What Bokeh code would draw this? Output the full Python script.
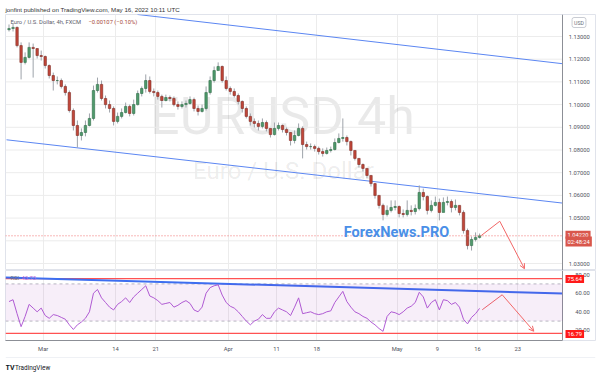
from bokeh.plotting import figure
from bokeh.layouts import column
from bokeh.models import (Range1d, FixedTicker, PrintfTickFormatter, Label, Title, LinearAxis,
                          BoxAnnotation, Arrow, OpenHead, Grid, ColumnDataSource)
from bokeh.embed import file_html
from bokeh.resources import INLINE

# ---------------- data (EURUSD, 12h resolution) ----------------
first_open = 1.1330
close = [1.1335, 1.1340, 1.1260, 1.1186, 1.1208, 1.1252, 1.1247, 1.1216, 1.1212, 1.1172,
         1.1128, 1.1106, 1.1106, 1.1080, 1.1053, 1.0974, 1.0908, 1.0864, 1.0877, 1.0908,
         1.0939, 1.1062, 1.1089, 1.1027, 1.1000, 1.0983, 1.0926, 1.0948, 1.0965, 1.0992,
         1.0961, 1.1000, 1.1049, 1.1071, 1.1106, 1.1058, 1.1053, 1.1036, 1.1018, 1.1031,
         1.1027, 1.1000, 1.0992, 1.1000, 1.1005, 1.1022, 1.0983, 1.0970, 1.0983, 1.1053,
         1.1106, 1.1150, 1.1168, 1.1106, 1.1071, 1.1058, 1.1040, 1.1014, 1.0983, 1.0948,
         1.0926, 1.0917, 1.0904, 1.0921, 1.0895, 1.0868, 1.0895, 1.0908, 1.0890, 1.0877,
         1.0842, 1.0864, 1.0895, 1.0824, 1.0815, 1.0815, 1.0807, 1.0793, 1.0785, 1.0798,
         1.0802, 1.0833, 1.0851, 1.0855, 1.0837, 1.0798, 1.0763, 1.0736, 1.0719, 1.0688,
         1.0652, 1.0600, 1.0556, 1.0516, 1.0534, 1.0547, 1.0551, 1.0520, 1.0516, 1.0534,
         1.0529, 1.0542, 1.0613, 1.0595, 1.0534, 1.0556, 1.0569, 1.0525, 1.0569, 1.0573,
         1.0547, 1.0556, 1.0525, 1.0445, 1.0379, 1.0406, 1.0415, 1.0422]
high = [1.1353, 1.1357, 1.1344, 1.1274, 1.1230, 1.1274, 1.1269, 1.1238, 1.1238, 1.1216,
        1.1177, 1.1141, 1.1124, 1.1115, 1.1089, 1.1062, 1.0983, 1.0930, 1.0895, 1.0930,
        1.0961, 1.1084, 1.1119, 1.1106, 1.1040, 1.1018, 1.0992, 1.0965, 1.0983, 1.1009,
        1.1000, 1.1022, 1.1062, 1.1080, 1.1133, 1.1124, 1.1071, 1.1062, 1.1044, 1.1044,
        1.1040, 1.1036, 1.1014, 1.1014, 1.1018, 1.1036, 1.1031, 1.0996, 1.1000, 1.1080,
        1.1124, 1.1168, 1.1186, 1.1172, 1.1124, 1.1080, 1.1071, 1.1049, 1.1018, 1.0992,
        1.0961, 1.0939, 1.0930, 1.0939, 1.0930, 1.0895, 1.0921, 1.0921, 1.0912, 1.0899,
        1.0877, 1.0886, 1.0917, 1.0904, 1.0837, 1.0829, 1.0824, 1.0815, 1.0807, 1.0811,
        1.0815, 1.0851, 1.0873, 1.0939, 1.0864, 1.0842, 1.0798, 1.0763, 1.0741, 1.0719,
        1.0688, 1.0652, 1.0600, 1.0564, 1.0556, 1.0578, 1.0578, 1.0556, 1.0538, 1.0578,
        1.0556, 1.0560, 1.0644, 1.0630, 1.0600, 1.0578, 1.0595, 1.0586, 1.0591, 1.0595,
        1.0582, 1.0582, 1.0556, 1.0534, 1.0454, 1.0419, 1.0437, 1.0432]
low = [1.1322, 1.1322, 1.1252, 1.1111, 1.1177, 1.1203, 1.1119, 1.1203, 1.1194, 1.1159,
       1.1115, 1.1062, 1.1089, 1.1071, 1.1040, 1.0965, 1.0886, 1.0811, 1.0842, 1.0860,
       1.0904, 1.0930, 1.1053, 1.1018, 1.0983, 1.0965, 1.0908, 1.0917, 1.0939, 1.0961,
       1.0948, 1.0952, 1.0996, 1.1036, 1.1053, 1.1049, 1.1036, 1.1022, 1.0987, 1.1014,
       1.1014, 1.0992, 1.0978, 1.0983, 1.0987, 1.1000, 1.0970, 1.0952, 1.0965, 1.0974,
       1.1044, 1.1097, 1.1159, 1.1097, 1.1062, 1.1044, 1.1031, 1.1000, 1.0965, 1.0939,
       1.0908, 1.0899, 1.0886, 1.0895, 1.0882, 1.0855, 1.0864, 1.0886, 1.0877, 1.0864,
       1.0820, 1.0829, 1.0860, 1.0763, 1.0802, 1.0802, 1.0793, 1.0780, 1.0771, 1.0780,
       1.0789, 1.0798, 1.0829, 1.0837, 1.0820, 1.0776, 1.0754, 1.0723, 1.0705, 1.0675,
       1.0639, 1.0586, 1.0542, 1.0490, 1.0507, 1.0525, 1.0534, 1.0503, 1.0503, 1.0507,
       1.0512, 1.0516, 1.0534, 1.0578, 1.0516, 1.0525, 1.0551, 1.0490, 1.0542, 1.0556,
       1.0525, 1.0534, 1.0512, 1.0432, 1.0362, 1.0357, 1.0397, 1.0410]
rsi = [51, 53, 38, 24, 35, 48, 44, 40, 44, 36, 33, 37, 36, 34, 32, 26, 21, 26, 29, 33,
       40, 60, 64, 55, 50, 45, 42, 48, 51, 55, 50, 56, 60, 64, 68, 57, 55, 52, 48, 49,
       50, 45, 47, 50, 52, 49, 42, 40, 45, 60, 66, 68, 69, 58, 50, 46, 44, 40, 35, 30,
       26, 30, 32, 37, 33, 33, 40, 44, 42, 40, 36, 45, 55, 38, 39, 40, 38, 37, 38, 40,
       41, 50, 56, 62, 51, 45, 40, 38, 35, 33, 29, 26, 22, 19, 35, 40, 39, 37, 40, 44,
       46, 50, 61, 56, 44, 50, 53, 42, 53, 52, 48, 50, 45, 32, 27, 34, 38, 43.73]

date_ticks = [0, 9, 14, 23, 29, 34, 44, 49, 54, 59]
date_labels = ["Mar", "14", "21", "Apr", "11", "18", "May", "9", "16", "23"]
price_ticks = [1.03, 1.04, 1.05, 1.06, 1.07, 1.08, 1.09, 1.10, 1.11, 1.12, 1.13]
rsi_ticks = [20, 40, 60, 80]
rsi_levels = [75.64, 16.79]
rsi_band = [30, 70]

upper_line_t = [11.72, 64.60]
upper_line_p = [1.1397, 1.1180]
lower_line_t = [-4.56, 64.60]
lower_line_p = [1.0845, 1.0566]
rsi_line_t = [-4.69, 64.60]
rsi_line_v = [76.9, 59.7]
arrow_t = [54.45, 56.76, 59.83]
arrow_p = [1.0423, 1.0486, 1.0277]
rsi_arrow_t = [54.58, 57.06, 60.99]
rsi_arrow_v = [42.2, 58.3, 19.1]

# reference-pixel -> data helpers (for annotation placement only)
def tx(rx):
    return (rx - 42.7) / 8.044

def py(ryy):
    return 1.13 - (ryy - 36) / 2270.0

def ry(ryy):
    return 60 - (ryy - 292.7) / 0.93

FONT = "Roboto"
AX_COL = "#50535e"
GRID_COL = "#ececec"
AX_LINE = "#8c8f96"
BORDER = "#e0e3eb"
T_LEFT, T_AXIS, T_RIGHT = tx(5), tx(562.3), tx(595)

n = len(close)
t_c = [-4.25 + 0.5 * i for i in range(n)]
opens = [first_open] + close[:-1]
is_up = [c >= o for o, c in zip(opens, close)]
src = ColumnDataSource(dict(
    t=t_c, h=high, l=low,
    top=[max(o, c) for o, c in zip(opens, close)],
    bot=[min(o, c) for o, c in zip(opens, close)],
    fill=["#4f9a6c" if u else "#c2473a" for u in is_up],
    edge=["#2f6b47" if u else "#7e2a22" for u in is_up],
))

xr = Range1d(T_LEFT, T_RIGHT)


def style_axis(ax, ticks, fmt):
    ax.ticker = FixedTicker(ticks=ticks)
    ax.formatter = PrintfTickFormatter(format=fmt)
    ax.major_tick_out = 0
    ax.major_tick_in = 0
    ax.minor_tick_out = 0
    ax.minor_tick_in = 0
    ax.major_label_standoff = -27
    ax.axis_line_color = AX_LINE
    ax.major_label_text_font = FONT
    ax.major_label_text_font_size = "5.8px"
    ax.major_label_text_color = AX_COL


# ---------------- price pane ----------------
p1 = figure(frame_width=590, frame_height=256, x_range=xr,
            y_range=Range1d(py(270), py(14)),
            output_backend="svg", toolbar_location=None,
            x_axis_location=None, y_axis_location=None,
            min_border_left=5, min_border_right=5, min_border_top=14, min_border_bottom=0)
p1.grid.visible = False
p1.outline_line_color = BORDER
p1.add_layout(Grid(dimension=0, ticker=FixedTicker(ticks=date_ticks), grid_line_color=GRID_COL))
p1.segment(x0=[T_LEFT] * len(price_ticks), y0=price_ticks,
           x1=[T_AXIS] * len(price_ticks), y1=price_ticks, line_color=GRID_COL, line_width=1)

p1.add_layout(Title(text="jonfint published on TradingView.com, May 16, 2022 10:11 UTC",
                    text_font="Liberation Sans", text_font_size="6.2px", text_color="#333333",
                    text_font_style="normal", align="left", offset=0, standoff=4), "above")

pax = LinearAxis(fixed_location=T_AXIS)
style_axis(pax, price_ticks, "%.5f")
p1.add_layout(pax, "left")

p1.add_layout(Label(x=tx(282), y=py(116), text="EURUSD 4h", text_font=FONT,
                    text_font_size="52px", text_color="#000000", text_alpha=0.085,
                    text_align="center", text_baseline="middle", level="underlay"))
p1.add_layout(Label(x=tx(283), y=py(170), text="Euro / U.S. Dollar", text_font=FONT,
                    text_font_size="24px", text_color="#000000", text_alpha=0.085,
                    text_align="center", text_baseline="middle", level="underlay"))

p1.line(upper_line_t, upper_line_p, line_color="#5b86f2", line_width=1)
p1.line(lower_line_t, lower_line_p, line_color="#5b86f2", line_width=1)

p1.segment(x0="t", y0="h", x1="t", y1="l", source=src, line_color="#9ea3aa", line_width=1)
p1.vbar(x="t", width=0.3, top="top", bottom="bot", fill_color="fill", line_color="edge",
        line_width=0.6, source=src)

# last-price line
p1.segment(x0=[T_LEFT], y0=[close[-1]], x1=[T_AXIS], y1=[close[-1]],
           line_color="#f07070", line_dash="1 2", line_width=1)

p1.line(arrow_t[:2], arrow_p[:2], line_color="#f26767", line_width=1)
p1.add_layout(Arrow(end=OpenHead(size=5, line_color="#f26767", line_width=1),
                    x_start=arrow_t[1], y_start=arrow_p[1], x_end=arrow_t[2], y_end=arrow_p[2],
                    line_color="#f26767", line_width=1))

p1.add_layout(Label(x=tx(396), y=py(232), text="ForexNews.PRO", text_font=FONT,
                    text_font_size="14.5px", text_font_style="bold", text_color="#4a8fe7",
                    text_align="center", text_baseline="middle"))

p1.add_layout(Label(x=tx(10), y=py(21), text="Euro / U.S. Dollar, 4h, FXCM", text_font=FONT,
                    text_font_size="5.8px", text_color="#5d606b", text_baseline="middle"))
p1.add_layout(Label(x=tx(88), y=py(21), text="\u22120.00107 (\u22120.10%)", text_font=FONT,
                    text_font_size="5.8px", text_color="#a8483a", text_baseline="middle"))

p1.add_layout(Label(x=tx(578.5), y=py(22), text="USD", text_font=FONT, text_font_size="5.2px",
                    text_color="#6a6d78", text_align="center", text_baseline="middle",
                    background_fill_color="white", border_line_color="#c9ccd3",
                    padding=2, border_radius=2))
p1.add_layout(Label(x=tx(565), y=py(234.3), text="1.04220", text_font=FONT, text_font_size="5.8px",
                    text_color="white", text_baseline="middle",
                    background_fill_color="#d9574c", padding=2))
p1.add_layout(Label(x=tx(565), y=py(241.0), text="02:48:24", text_font=FONT, text_font_size="5.8px",
                    text_color="white", text_baseline="middle",
                    background_fill_color="#d9574c", padding=2))

# ---------------- RSI pane ----------------
p2 = figure(frame_width=590, frame_height=70, x_range=xr,
            y_range=Range1d(ry(340), ry(270)),
            output_backend="svg", toolbar_location=None,
            x_axis_location="below", y_axis_location=None,
            min_border_left=5, min_border_right=5, min_border_top=0, min_border_bottom=17)
p2.grid.visible = False
p2.outline_line_color = BORDER
p2.add_layout(Grid(dimension=0, ticker=FixedTicker(ticks=date_ticks), grid_line_color=GRID_COL))

p2.add_layout(BoxAnnotation(bottom=rsi_band[0], top=rsi_band[1], left=T_LEFT, right=T_AXIS,
                            fill_color="#9c27b0", fill_alpha=0.08, line_alpha=0))
p2.segment(x0=[T_LEFT] * 2, y0=rsi_band, x1=[T_AXIS] * 2, y1=rsi_band,
           line_color="#b9b9c2", line_dash="3 3", line_width=1)
p2.segment(x0=[T_LEFT] * 2, y0=rsi_levels, x1=[T_AXIS] * 2, y1=rsi_levels,
           line_color="#ff5252", line_width=1.3)

p2.line(rsi_line_t, rsi_line_v, line_color="#3d6ef0", line_width=2)
p2.line(t_c, rsi, line_color="#b25fd6", line_width=1)

p2.line(rsi_arrow_t[:2], rsi_arrow_v[:2], line_color="#f26767", line_width=1)
p2.add_layout(Arrow(end=OpenHead(size=5, line_color="#f26767", line_width=1),
                    x_start=rsi_arrow_t[1], y_start=rsi_arrow_v[1],
                    x_end=rsi_arrow_t[2], y_end=rsi_arrow_v[2],
                    line_color="#f26767", line_width=1))

rax = LinearAxis(fixed_location=T_AXIS)
style_axis(rax, rsi_ticks, "%.2f")
p2.add_layout(rax, "left")

xa = p2.xaxis[0]
xa.ticker = FixedTicker(ticks=date_ticks)
xa.major_label_overrides = {k: v for k, v in zip(date_ticks, date_labels)}
xa.major_tick_out = 0
xa.major_tick_in = 0
xa.minor_tick_out = 0
xa.minor_tick_in = 0
xa.major_label_standoff = 5
xa.axis_line_color = AX_LINE
xa.bounds = (T_LEFT, T_AXIS)
xa.major_label_text_font = FONT
xa.major_label_text_font_size = "5.8px"
xa.major_label_text_color = AX_COL

p2.add_layout(Label(x=tx(10), y=ry(277.5), text="RSI", text_font=FONT, text_font_size="5.8px",
                    text_color="#6a6d78", text_baseline="middle"))
p2.add_layout(Label(x=tx(21), y=ry(277.5), text="43.73", text_font=FONT, text_font_size="5.8px",
                    text_color="#b25fd6", text_baseline="middle"))
p2.add_layout(Label(x=tx(565), y=ry(278.5), text="75.64", text_font=FONT, text_font_size="5.8px",
                    text_color="white", text_baseline="middle",
                    background_fill_color="#ff1a1a", padding=2))
p2.add_layout(Label(x=tx(565), y=ry(333.5), text="16.79", text_font=FONT, text_font_size="5.8px",
                    text_color="white", text_baseline="middle",
                    background_fill_color="#ff1a1a", padding=2))

# ---------------- footer strip ----------------
p3 = figure(frame_width=590, frame_height=22, x_range=Range1d(0, 590), y_range=Range1d(0, 22),
            output_backend="svg", toolbar_location=None,
            x_axis_location=None, y_axis_location=None,
            min_border_left=5, min_border_right=5, min_border_top=0, min_border_bottom=0)
p3.grid.visible = False
p3.outline_line_color = None
p3.segment(x0=[0], y0=[22], x1=[590], y1=[22], line_color=BORDER, line_width=1)
p3.add_layout(Label(x=0, y=12, text="TV", text_font=FONT, text_font_size="7px",
                    text_font_style="bold", text_color="#131722", text_baseline="middle"))
p3.add_layout(Label(x=9.5, y=12, text="TradingView", text_font=FONT, text_font_size="6.4px",
                    text_color="#131722", text_baseline="middle"))

layout = column(p1, p2, p3, spacing=0)
open("out.html", "w").write(file_html(layout, INLINE))
